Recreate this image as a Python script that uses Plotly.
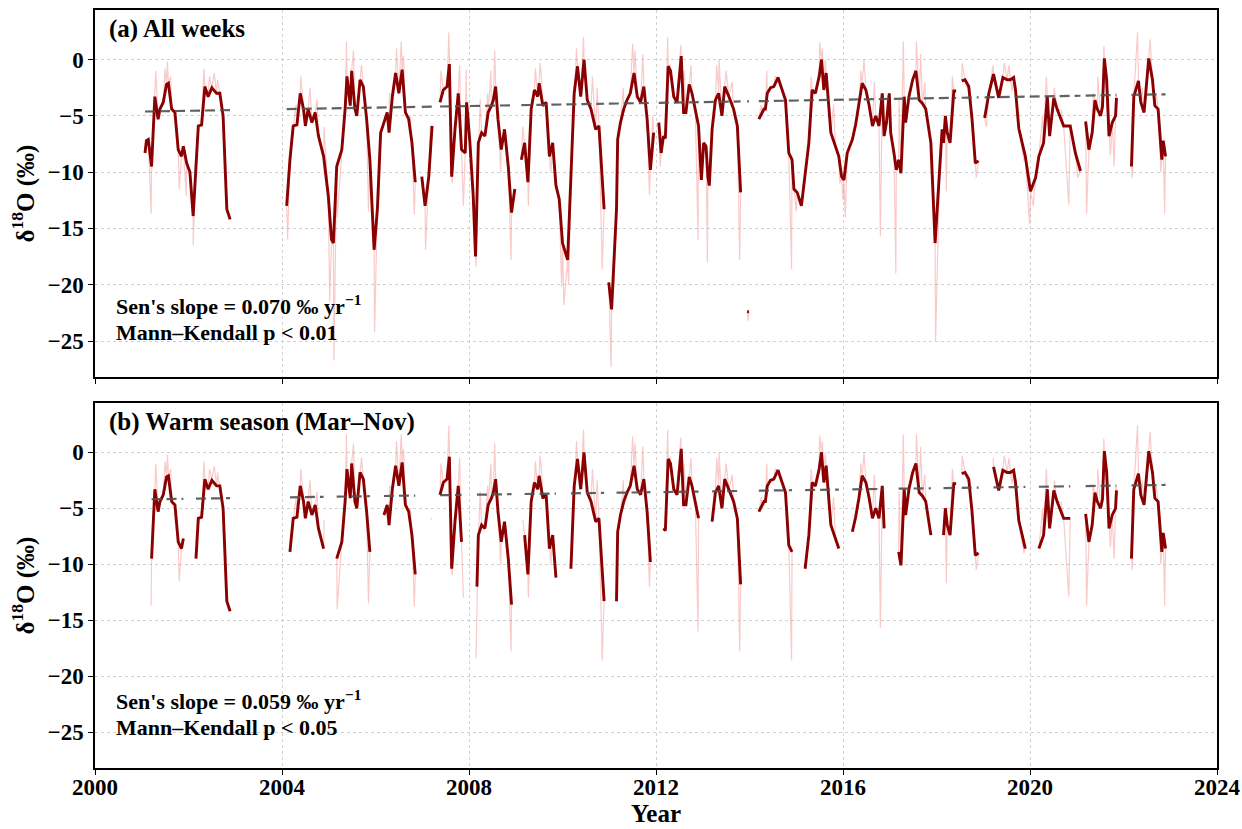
import math
import plotly.graph_objects as go
from plotly.subplots import make_subplots

# ---------------- data ----------------
# Smoothed weekly d18O, as continuous segments of (decimal year, permil)
seg_2001 = [(2001.07,-8.3),(2001.10,-7.2),(2001.14,-7.1),(2001.21,-9.5),(2001.28,-3.3),(2001.35,-5.3),(2001.39,-4.4),
            (2001.46,-3.8),(2001.53,-2.2),(2001.57,-2.1),(2001.64,-4.4),(2001.71,-4.7),(2001.78,-8.0),(2001.85,-8.6),
            (2001.89,-7.7),(2001.96,-9.2),(2002.03,-10.0),(2002.10,-13.9),(2002.16,-9.5),(2002.21,-5.9),(2002.28,-5.8),
            (2002.35,-2.4),(2002.42,-3.3),(2002.50,-2.5),(2002.60,-3.0),(2002.67,-3.0),(2002.74,-5.0),(2002.82,-13.3),
            (2002.89,-14.2)]
seg_2004 = [(2004.10,-13.0),(2004.17,-8.9),(2004.24,-5.9),(2004.32,-5.8),(2004.39,-3.0),(2004.46,-4.4),(2004.50,-5.9),
            (2004.56,-4.4),(2004.64,-5.6),(2004.71,-4.7),(2004.78,-6.8),(2004.89,-8.6),(2004.99,-12.1),(2005.06,-16.0),
            (2005.10,-16.3),(2005.17,-9.5),(2005.28,-8.0),(2005.35,-4.4),(2005.39,-1.5),(2005.46,-4.1),(2005.49,-1.0),
            (2005.56,-4.4),(2005.60,-5.0),(2005.67,-1.8),(2005.74,-2.4),(2005.81,-5.3),(2005.88,-8.9),(2005.97,-16.9),
            (2006.04,-13.3),(2006.11,-6.5),(2006.18,-5.6),(2006.25,-4.7),(2006.29,-6.5),(2006.36,-3.3),(2006.43,-1.2),
            (2006.50,-3.0),(2006.57,-0.9),(2006.64,-4.7),(2006.71,-5.3),(2006.78,-7.4),(2006.85,-10.9)]
seg_2007a = [(2006.99,-10.4),(2007.06,-13.0),(2007.14,-10.4),(2007.21,-5.9)]
seg_2007b = [(2007.38,-3.8),(2007.45,-2.7),(2007.53,-2.4),(2007.58,-0.4),(2007.63,-10.4),(2007.70,-6.2),(2007.77,-3.0),
             (2007.84,-8.0),(2007.92,-8.3),(2007.95,-3.8),(2008.02,-7.4),(2008.09,-12.1),(2008.14,-17.5),(2008.17,-12.0),
             (2008.20,-7.4),
             (2008.27,-6.5),(2008.34,-6.8),(2008.41,-4.7),(2008.48,-4.1),(2008.52,-3.6),(2008.57,-2.4),(2008.62,-5.3),
             (2008.69,-8.0),(2008.76,-6.2),(2008.84,-9.5),(2008.91,-13.6),(2008.98,-11.5)]
seg_2009 = [(2009.12,-8.9),(2009.19,-7.4),(2009.26,-10.9),(2009.33,-4.4),(2009.40,-2.7),(2009.47,-3.3),(2009.50,-2.1),
            (2009.58,-4.1),(2009.65,-3.8),(2009.72,-8.6),(2009.79,-7.4),(2009.86,-11.2),(2009.93,-12.4),(2010.00,-16.3),
            (2010.11,-17.8),(2010.18,-10.4),(2010.25,-3.0),(2010.32,-0.6),(2010.39,-3.3),(2010.46,0.0),(2010.53,-3.6),
            (2010.61,-4.4),(2010.71,-6.2),(2010.78,-5.9),(2010.89,-13.3)]
seg_2011 = [(2010.99,-19.8),(2011.05,-22.2),(2011.155,-13.3),(2011.18,-7.1),(2011.24,-5.6),(2011.31,-4.4),(2011.38,-3.6),
            (2011.45,-3.0),(2011.53,-1.2),(2011.60,-3.3),(2011.67,-3.8),(2011.74,-2.4),(2011.81,-5.3),(2011.88,-9.8),
            (2011.95,-6.5)]
seg_2012 = [(2012.06,-5.6),(2012.11,-8.3),(2012.16,-6.8),(2012.20,-7.0),(2012.26,-0.6),(2012.31,-1.0),(2012.38,-3.3),
            (2012.45,-3.8),(2012.54,0.3),(2012.59,-4.7),(2012.64,-4.7),(2012.71,-2.2),(2012.77,-3.0),(2012.84,-4.4),
            (2012.91,-5.9),(2012.97,-10.7),(2013.02,-7.4),(2013.07,-7.7),(2013.11,-10.4),(2013.14,-11.2),(2013.20,-6.2),
            (2013.27,-3.6),(2013.34,-3.0),(2013.41,-5.0),(2013.47,-2.4),(2013.56,-3.3),(2013.66,-4.4),(2013.74,-5.9),
            (2013.81,-11.8)]
seg_2013 = [(2013.95,-22.4),(2013.99,-22.4)]
seg_2014 = [(2014.20,-5.3),(2014.27,-4.7),(2014.31,-4.4),(2014.34,-4.4),(2014.38,-3.0),(2014.45,-2.5),(2014.52,-2.4),
            (2014.61,-1.6),(2014.70,-2.7),(2014.77,-3.6),(2014.84,-8.3),(2014.91,-8.9),(2014.95,-11.5),(2015.02,-11.8),
            (2015.11,-13.0),(2015.19,-10.4),(2015.27,-7.4),(2015.34,-2.7),(2015.41,-3.0),(2015.49,-1.5),(2015.54,0.0),
            (2015.59,-2.7),(2015.64,-1.2),(2015.74,-6.5),(2015.84,-7.7),(2015.91,-8.6),(2015.97,-10.4),(2016.02,-10.7),
            (2016.09,-8.3),(2016.20,-7.1),(2016.27,-5.8),(2016.34,-4.1),(2016.41,-2.1),(2016.49,-2.7),(2016.56,-4.1),
            (2016.63,-5.9),(2016.70,-5.0),(2016.77,-5.9),(2016.84,-3.0),(2016.88,-6.8),(2016.93,-5.6),(2016.99,-3.0),
            (2017.02,-6.5),(2017.09,-8.3),(2017.14,-9.8),(2017.19,-8.9),(2017.24,-10.1),(2017.31,-3.3),(2017.34,-5.6),
            (2017.41,-3.3),(2017.49,-1.8),(2017.56,-1.0),(2017.63,-3.6),(2017.70,-3.9),(2017.77,-4.4),(2017.88,-7.4),
            (2017.97,-16.3),(2018.12,-6.2),(2018.15,-7.4),(2018.19,-5.0),(2018.23,-6.5),(2018.29,-7.4),(2018.37,-2.8),
            (2018.42,-2.8)]
seg_2018 = [(2018.54,-1.9),(2018.61,-1.8),(2018.69,-2.4),(2018.76,-5.3),(2018.83,-9.2),(2018.90,-9.0)]
seg_2019 = [(2019.03,-5.2),(2019.12,-3.0),(2019.22,-1.3),(2019.33,-3.4),(2019.42,-1.6),(2019.51,-1.8),(2019.58,-1.8),
            (2019.65,-1.6),(2019.69,-2.7),(2019.76,-6.1),(2019.90,-8.6),(2020.01,-11.7),(2020.12,-10.5),(2020.19,-8.6),
            (2020.29,-7.4),(2020.37,-3.3),(2020.42,-6.8),(2020.51,-3.4),(2020.58,-4.4),(2020.72,-5.9),(2020.86,-5.9),
            (2020.97,-8.3),(2021.08,-9.9)]
seg_2021 = [(2021.19,-5.5),(2021.26,-8.0),(2021.33,-6.5),(2021.39,-3.6),(2021.44,-4.4),(2021.51,-5.0),(2021.55,-4.2),
            (2021.59,0.1),(2021.64,-1.8),(2021.69,-6.8),(2021.76,-5.6),(2021.83,-5.0),(2021.85,-3.4)]
seg_2022 = [(2022.17,-9.5),(2022.22,-3.3),(2022.32,-1.9),(2022.37,-3.8),(2022.44,-4.7),(2022.54,0.1),(2022.62,-1.8),
            (2022.67,-4.1),(2022.74,-4.4),(2022.82,-8.9),(2022.85,-7.2),(2022.90,-8.6)]
smooth_segments = [seg_2001, seg_2004, seg_2007a, seg_2007b, seg_2009, seg_2011, seg_2012,
                   seg_2013, seg_2014, seg_2018, seg_2019, seg_2021, seg_2022]

# Individual weekly extremes (raw series spikes)
spike_year = [2001.20,2001.30,2001.50,2001.55,2001.62,2001.80,2001.95,2002.05,2002.10,2002.33,2002.45,2002.55,2002.62,
              2004.12,2004.30,2004.40,2004.60,2004.75,2004.90,2005.02,2005.11,2005.18,2005.38,2005.48,2005.53,2005.70,
              2005.85,2005.98,2006.08,2006.30,2006.45,2006.55,2006.60,2006.75,2006.83,
              2007.07,2007.17,
              2007.40,2007.57,2007.64,2007.72,2007.80,2007.88,2007.94,2008.05,2008.15,2008.24,2008.40,2008.47,2008.55,
              2008.68,2008.80,2008.90,
              2009.15,2009.27,2009.42,2009.52,2009.55,2009.75,2009.98,2010.03,2010.13,2010.30,2010.45,2010.48,2010.64,
              2010.74,2010.85,
              2011.04,2011.10,2011.30,2011.50,2011.55,2011.72,2011.86,2011.93,
              2012.09,2012.25,2012.30,2012.53,2012.60,2012.75,2012.90,2013.10,2013.30,2013.35,2013.50,2013.63,2013.79,
              2013.97,
              2014.25,2014.37,2014.55,2014.90,2015.00,2015.32,2015.50,2015.56,2015.62,2015.80,2015.93,2016.00,2016.05,
              2016.38,2016.45,2016.67,2016.80,2016.95,2017.13,2017.20,2017.29,2017.52,2017.57,2017.66,2017.75,2017.98,
              2018.08,2018.21,2018.34,
              2018.55,2018.65,2018.85,
              2019.07,2019.21,2019.37,2019.45,2019.55,2019.62,2019.87,2019.99,2020.07,2020.27,2020.35,2020.52,2020.67,
              2020.83,2021.02,
              2021.21,2021.35,2021.45,2021.58,2021.62,2021.72,2021.80,2021.84,
              2022.19,2022.30,2022.40,2022.50,2022.57,2022.70,2022.80,2022.88]
spike_d18o = [-13.7,-1.0,-0.8,-0.2,-1.5,-11.5,-12.1,-11.0,-16.5,-0.8,-1.5,-1.2,-1.8,
              -16.0,-4.0,-1.5,-2.5,-3.5,-6.0,-21.5,-26.7,-14.0,1.6,-0.8,0.8,-0.5,
              -13.5,-24.2,-12.0,-3.0,1.0,1.6,0.3,-5.0,-13.8,
              -16.9,-6.0,
              -1.0,2.4,-11.0,-5.0,-0.5,-13.0,-0.9,-10.0,-18.4,-3.5,-3.0,-1.0,0.8,
              -10.0,-7.0,-17.8,
              -6.0,-13.0,-0.8,-0.3,-1.5,-10.0,-20.2,-21.8,-20.0,1.0,2.0,-0.5,-1.5,
              -2.5,-18.6,
              -27.3,-20.0,-2.5,1.4,0.8,0.5,-12.0,-5.0,
              -9.5,2.0,-0.5,1.3,-1.0,-0.5,-16.0,-18.0,-0.5,0.0,-1.0,-2.0,-17.8,
              -23.2,
              -4.0,-1.0,-1.5,-18.6,-13.5,-1.5,1.5,1.0,0.0,-4.0,-11.0,-12.5,-14.0,
              -1.0,0.0,-2.0,-15.7,-3.5,-19.0,-3.5,1.6,-1.5,1.6,0.5,-2.0,-25.0,
              -8.0,-11.7,-1.5,
              -0.3,-2.5,-10.5,
              -6.0,-0.5,-3.0,-0.3,-0.5,-2.8,-9.0,-14.6,-13.0,-5.0,-1.5,-2.5,-4.5,
              -12.9,-10.5,
              -13.7,-3.0,-1.5,1.2,-2.5,-8.5,-9.5,-3.0,
              -10.5,2.4,-2.5,-2.0,1.8,-3.0,-10.0,-13.7]

SEN_SLOPE_ALL = 0.070      # permil / yr
TREND_ALL_AT_2012 = -3.85
SEN_SLOPE_WARM = 0.059
TREND_WARM_AT_2012 = -3.56
WARM_START, WARM_END = 0.15, 0.92   # Mar .. Nov as fraction of year

X_TICKS = [2000, 2004, 2008, 2012, 2016, 2020, 2024]
Y_TICKS = [0, -5, -10, -15, -20, -25]

# ---------------- helpers ----------------
def segments_to_xy(segs):
    xs, ys = [], []
    for s in segs:
        for t, v in s:
            xs.append(t); ys.append(v)
        xs.append(None); ys.append(None)
    return xs, ys

def raw_segments(segs):
    out = []
    for s in segs:
        t0, t1 = s[0][0], s[-1][0]
        pts = list(s) + [(t, v) for t, v in zip(spike_year, spike_d18o) if t0 <= t <= t1]
        pts.sort(key=lambda p: p[0])
        out.append(pts)
    return out

def warm_only(segs):
    out = []
    for s in segs:
        cur = []
        for t, v in s:
            f = t - math.floor(t)
            if WARM_START <= f <= WARM_END:
                if cur and t - cur[-1][0] > 0.2:
                    out.append(cur); cur = []
                cur.append((t, v))
            else:
                if cur:
                    out.append(cur); cur = []
        if cur:
            out.append(cur)
    return out

def trend_xy(segs, slope, at2012):
    xs, ys = [], []
    for s in segs:
        for t, _ in s:
            xs.append(t); ys.append(at2012 + slope * (t - 2012))
        xs.append(None); ys.append(None)
    return xs, ys

FONT = "Liberation Serif"
RAW_COLOR = "rgba(240,128,128,0.42)"
SMOOTH_COLOR = "#8B0000"
TREND_COLOR = "rgba(80,80,80,0.9)"

fig = make_subplots(rows=2, cols=1, shared_xaxes=True, vertical_spacing=0.0)

panels = [
    (smooth_segments, SEN_SLOPE_ALL, TREND_ALL_AT_2012),
    (warm_only(smooth_segments), SEN_SLOPE_WARM, TREND_WARM_AT_2012),
]
for row, (segs, slope, at2012) in enumerate(panels, start=1):
    rsegs = raw_segments(smooth_segments)
    if row == 2:
        rsegs = warm_only(rsegs)
    rx, ry = segments_to_xy(rsegs)
    fig.add_trace(go.Scatter(x=rx, y=ry, mode="lines", line=dict(color=RAW_COLOR, width=1.2),
                             showlegend=False, hoverinfo="skip"), row=row, col=1)
    sx, sy = segments_to_xy(segs)
    fig.add_trace(go.Scatter(x=sx, y=sy, mode="lines", line=dict(color=SMOOTH_COLOR, width=2.9),
                             showlegend=False), row=row, col=1)
    tx, ty = trend_xy(segs, slope, at2012)
    fig.add_trace(go.Scatter(x=tx, y=ty, mode="lines", line=dict(color=TREND_COLOR, width=2.2, dash="10px,5px"),
                             showlegend=False), row=row, col=1)

axis_common = dict(showline=True, linecolor="black", linewidth=1.5, mirror=True,
                   ticks="outside", ticklen=5, tickcolor="black", automargin=False,
                   showgrid=True, gridcolor="rgba(190,190,190,0.7)", griddash="dot", gridwidth=0.8,
                   zeroline=False,
                   tickfont=dict(family=FONT, size=23, color="black", weight="bold"))

fig.update_xaxes(range=[2000, 2024], tickvals=X_TICKS, ticklabelstandoff=-7, **axis_common)
fig.update_yaxes(range=[-28.2, 4.4], tickvals=Y_TICKS, **axis_common)
fig.update_xaxes(showticklabels=False, row=1, col=1)
fig.update_xaxes(title=dict(text="Year", font=dict(family=FONT, size=25, color="black", weight="bold"), standoff=2),
                 row=2, col=1)
for r in (1, 2):
    fig.update_yaxes(title=dict(text="δ<sup>18</sup>O (‰)", font=dict(family=FONT, size=25, color="black", weight="bold"),
                                standoff=6), row=r, col=1)

fig.update_layout(
    width=1242, height=829,
    margin=dict(l=95, r=25, t=10, b=61),
    plot_bgcolor="white", paper_bgcolor="white",
    showlegend=False,
)
fig.layout.yaxis.domain = [0.5158, 1.0]
fig.layout.yaxis2.domain = [0.0, 0.4815]

def ann(text, x, y, size):
    fig.add_annotation(text=text, xref="paper", yref="paper", x=x, y=y, xanchor="left", yanchor="middle",
                       showarrow=False, font=dict(family=FONT, size=size, color="black", weight="bold"))

ann("(a) All weeks", 0.0107, 0.975, 25)
ann("Sen's slope = 0.070 ‰ yr<sup>−1</sup>", 0.017, 0.611, 22)
ann("Mann–Kendall p < 0.01", 0.017, 0.574, 22)
ann("(b) Warm season (Mar–Nov)", 0.0107, 0.4565, 25)
ann("Sen's slope = 0.059 ‰ yr<sup>−1</sup>", 0.017, 0.0897, 22)
ann("Mann–Kendall p < 0.05", 0.017, 0.054, 22)

fig.write_html("out.html", config={"displayModeBar": False},
               post_script="document.body.style.margin='0px';document.body.style.overflow='hidden';")
